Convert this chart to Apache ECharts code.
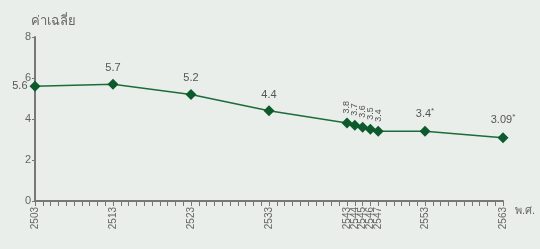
<!DOCTYPE html>
<html><head><meta charset="utf-8">
<script src="https://cdn.jsdelivr.net/npm/echarts@6/dist/echarts.min.js"></script>
<style>html,body{margin:0;padding:0;background:#e9eeea;}#c{width:540px;height:249px;}</style>
</head><body><div id="c"></div>
<script>
const years = [2503, 2513, 2523, 2533, 2543, 2544, 2545, 2546, 2547, 2553, 2563];
const values = [5.6, 5.7, 5.2, 4.4, 3.8, 3.7, 3.6, 3.5, 3.4, 3.4, 3.09];
const yTicks = [0, 2, 4, 6, 8];
const footnoted = [2553, 2563];
const rotatedYears = [2543, 2544, 2545, 2546, 2547];

const chart = echarts.init(document.getElementById('c'));
const data = years.map((y, i) => {
  const item = {value: [y, values[i]]};
  if (i === 0) {
    item.label = {position: 'left', distance: 2};
  } else if (rotatedYears.includes(y)) {
    item.label = {rotate: 90, position: 'top', align: 'left', verticalAlign: 'middle', distance: 4, fontSize: 9};
  } else if (footnoted.includes(y)) {
    item.label = {formatter: p => p.value[1] + '{s|*}'};
  }
  return item;
});
chart.setOption({
  backgroundColor: '#e9eeea',
  animation: false,
  grid: {left: 35, right: 37, top: 37, bottom: 48},
  xAxis: {
    type: 'value', min: 2503, max: 2563, interval: 1,
    name: 'พ.ศ.', nameLocation: 'end', nameGap: 12,
    nameTextStyle: {color: '#666', fontSize: 11, verticalAlign: 'top', padding: [4, 0, 0, 0]},
    axisLine: {show: true, lineStyle: {color: '#777', width: 2}},
    axisTick: {show: true, length: 5, lineStyle: {color: '#777'}},
    splitLine: {show: false},
    axisLabel: {
      rotate: 90, fontSize: 10, color: '#666', margin: 6,
      formatter: v => years.includes(v) ? String(v) : ''
    }
  },
  yAxis: {
    type: 'value', min: 0, max: 8, interval: 2,
    name: 'ค่าเฉลี่ย', nameLocation: 'end', nameGap: 9,
    nameTextStyle: {color: '#666', fontSize: 13, align: 'left', padding: [0, 0, 0, -4]},
    axisLine: {show: true, lineStyle: {color: '#777', width: 2}},
    axisTick: {show: true, length: 3, lineStyle: {color: '#777'}},
    splitLine: {show: false},
    axisLabel: {fontSize: 11, color: '#666', margin: 4}
  },
  series: [{
    type: 'line',
    data: data,
    symbol: 'diamond', symbolSize: 11,
    itemStyle: {color: '#0d5a2c'},
    lineStyle: {color: '#1d6b3a', width: 1.5},
    label: {
      show: true, position: 'top', distance: 5, fontSize: 11, color: '#555',
      rich: {s: {fontSize: 8, color: '#555', verticalAlign: 'top', padding: [0, 0, 6, 0]}}
    }
  }]
});
</script></body></html>
